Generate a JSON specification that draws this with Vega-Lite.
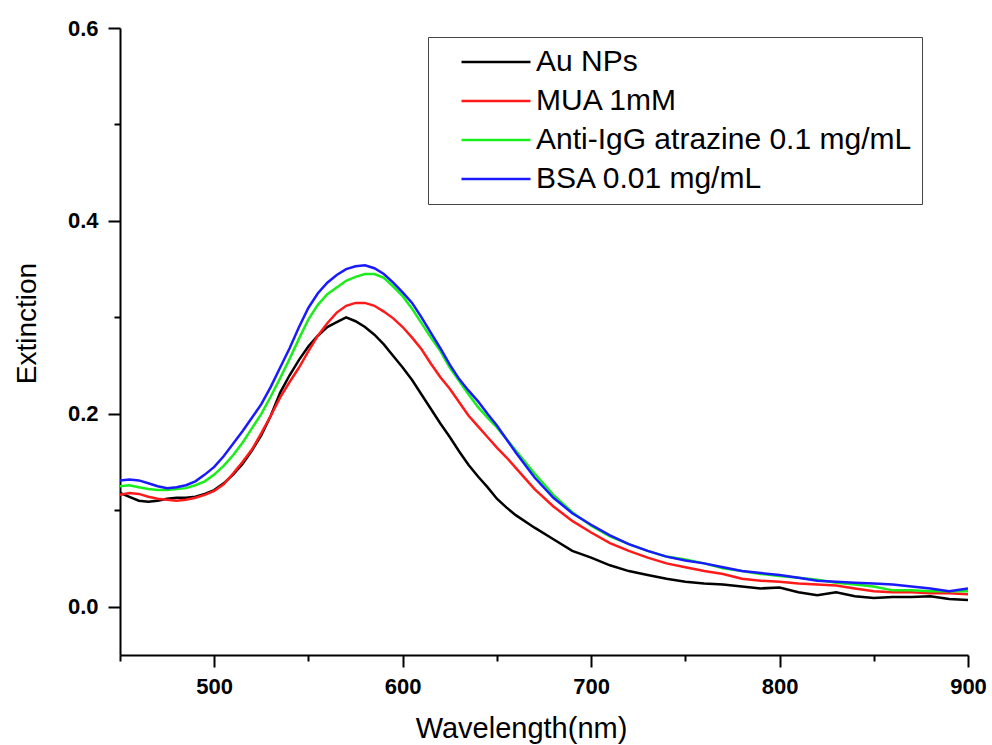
{
  "$schema": "https://vega.github.io/schema/vega-lite/v6.json",
  "autosize": {"type": "none"},
  "padding": {"left": 120, "top": 28, "right": 24, "bottom": 90},
  "width": 848,
  "height": 627,
  "background": "white",
  "config": {
    "view": {"stroke": null},
    "axis": {
      "grid": false,
      "domainColor": "black",
      "domainWidth": 2,
      "tickColor": "black",
      "tickWidth": 2,
      "labelFont": "Liberation Sans",
      "labelFontWeight": "bold",
      "labelFontSize": 22,
      "labelColor": "black",
      "titleFont": "Liberation Sans",
      "titleFontWeight": "normal",
      "titleColor": "black"
    },
    "legend": {
      "labelFont": "Liberation Sans",
      "labelFontSize": 30,
      "labelColor": "black"
    }
  },
  "data": {
    "values": [
      {"w":450,"s":"Au NPs","v":0.118},{"w":455,"s":"Au NPs","v":0.114},{"w":460,"s":"Au NPs","v":0.110},{"w":465,"s":"Au NPs","v":0.109},{"w":470,"s":"Au NPs","v":0.110},{"w":475,"s":"Au NPs","v":0.112},{"w":480,"s":"Au NPs","v":0.113},{"w":485,"s":"Au NPs","v":0.113},{"w":490,"s":"Au NPs","v":0.114},{"w":495,"s":"Au NPs","v":0.117},{"w":500,"s":"Au NPs","v":0.121},{"w":505,"s":"Au NPs","v":0.128},{"w":510,"s":"Au NPs","v":0.137},{"w":515,"s":"Au NPs","v":0.148},{"w":520,"s":"Au NPs","v":0.162},{"w":525,"s":"Au NPs","v":0.178},{"w":530,"s":"Au NPs","v":0.198},{"w":535,"s":"Au NPs","v":0.222},{"w":540,"s":"Au NPs","v":0.240},{"w":545,"s":"Au NPs","v":0.256},{"w":550,"s":"Au NPs","v":0.270},{"w":555,"s":"Au NPs","v":0.281},{"w":560,"s":"Au NPs","v":0.290},{"w":565,"s":"Au NPs","v":0.295},{"w":570,"s":"Au NPs","v":0.300},{"w":575,"s":"Au NPs","v":0.296},{"w":580,"s":"Au NPs","v":0.290},{"w":585,"s":"Au NPs","v":0.282},{"w":590,"s":"Au NPs","v":0.272},{"w":595,"s":"Au NPs","v":0.260},{"w":600,"s":"Au NPs","v":0.248},{"w":605,"s":"Au NPs","v":0.235},{"w":610,"s":"Au NPs","v":0.220},{"w":615,"s":"Au NPs","v":0.205},{"w":620,"s":"Au NPs","v":0.190},{"w":625,"s":"Au NPs","v":0.176},{"w":630,"s":"Au NPs","v":0.161},{"w":635,"s":"Au NPs","v":0.147},{"w":640,"s":"Au NPs","v":0.135},{"w":645,"s":"Au NPs","v":0.124},{"w":650,"s":"Au NPs","v":0.112},{"w":655,"s":"Au NPs","v":0.103},{"w":660,"s":"Au NPs","v":0.095},{"w":670,"s":"Au NPs","v":0.082},{"w":680,"s":"Au NPs","v":0.070},{"w":690,"s":"Au NPs","v":0.058},{"w":700,"s":"Au NPs","v":0.051},{"w":710,"s":"Au NPs","v":0.043},{"w":720,"s":"Au NPs","v":0.037},{"w":730,"s":"Au NPs","v":0.033},{"w":740,"s":"Au NPs","v":0.029},{"w":750,"s":"Au NPs","v":0.026},{"w":760,"s":"Au NPs","v":0.024},{"w":770,"s":"Au NPs","v":0.023},{"w":780,"s":"Au NPs","v":0.021},{"w":790,"s":"Au NPs","v":0.019},{"w":800,"s":"Au NPs","v":0.020},{"w":810,"s":"Au NPs","v":0.015},{"w":820,"s":"Au NPs","v":0.012},{"w":830,"s":"Au NPs","v":0.015},{"w":840,"s":"Au NPs","v":0.011},{"w":850,"s":"Au NPs","v":0.009},{"w":860,"s":"Au NPs","v":0.010},{"w":870,"s":"Au NPs","v":0.010},{"w":880,"s":"Au NPs","v":0.011},{"w":890,"s":"Au NPs","v":0.008},{"w":900,"s":"Au NPs","v":0.007},

      {"w":450,"s":"MUA 1mM","v":0.116},{"w":455,"s":"MUA 1mM","v":0.118},{"w":460,"s":"MUA 1mM","v":0.117},{"w":465,"s":"MUA 1mM","v":0.114},{"w":470,"s":"MUA 1mM","v":0.112},{"w":475,"s":"MUA 1mM","v":0.111},{"w":480,"s":"MUA 1mM","v":0.110},{"w":485,"s":"MUA 1mM","v":0.111},{"w":490,"s":"MUA 1mM","v":0.113},{"w":495,"s":"MUA 1mM","v":0.116},{"w":500,"s":"MUA 1mM","v":0.120},{"w":505,"s":"MUA 1mM","v":0.127},{"w":510,"s":"MUA 1mM","v":0.138},{"w":515,"s":"MUA 1mM","v":0.150},{"w":520,"s":"MUA 1mM","v":0.163},{"w":525,"s":"MUA 1mM","v":0.180},{"w":530,"s":"MUA 1mM","v":0.198},{"w":535,"s":"MUA 1mM","v":0.217},{"w":540,"s":"MUA 1mM","v":0.233},{"w":545,"s":"MUA 1mM","v":0.248},{"w":550,"s":"MUA 1mM","v":0.265},{"w":555,"s":"MUA 1mM","v":0.281},{"w":560,"s":"MUA 1mM","v":0.294},{"w":565,"s":"MUA 1mM","v":0.305},{"w":570,"s":"MUA 1mM","v":0.312},{"w":575,"s":"MUA 1mM","v":0.315},{"w":580,"s":"MUA 1mM","v":0.315},{"w":585,"s":"MUA 1mM","v":0.312},{"w":590,"s":"MUA 1mM","v":0.306},{"w":595,"s":"MUA 1mM","v":0.299},{"w":600,"s":"MUA 1mM","v":0.290},{"w":605,"s":"MUA 1mM","v":0.279},{"w":610,"s":"MUA 1mM","v":0.267},{"w":615,"s":"MUA 1mM","v":0.252},{"w":620,"s":"MUA 1mM","v":0.238},{"w":625,"s":"MUA 1mM","v":0.226},{"w":630,"s":"MUA 1mM","v":0.212},{"w":635,"s":"MUA 1mM","v":0.198},{"w":640,"s":"MUA 1mM","v":0.187},{"w":645,"s":"MUA 1mM","v":0.176},{"w":650,"s":"MUA 1mM","v":0.165},{"w":655,"s":"MUA 1mM","v":0.155},{"w":660,"s":"MUA 1mM","v":0.144},{"w":670,"s":"MUA 1mM","v":0.122},{"w":680,"s":"MUA 1mM","v":0.104},{"w":690,"s":"MUA 1mM","v":0.089},{"w":700,"s":"MUA 1mM","v":0.077},{"w":710,"s":"MUA 1mM","v":0.066},{"w":720,"s":"MUA 1mM","v":0.058},{"w":730,"s":"MUA 1mM","v":0.051},{"w":740,"s":"MUA 1mM","v":0.045},{"w":750,"s":"MUA 1mM","v":0.041},{"w":760,"s":"MUA 1mM","v":0.037},{"w":770,"s":"MUA 1mM","v":0.034},{"w":780,"s":"MUA 1mM","v":0.029},{"w":790,"s":"MUA 1mM","v":0.027},{"w":800,"s":"MUA 1mM","v":0.026},{"w":810,"s":"MUA 1mM","v":0.024},{"w":820,"s":"MUA 1mM","v":0.023},{"w":830,"s":"MUA 1mM","v":0.022},{"w":840,"s":"MUA 1mM","v":0.019},{"w":850,"s":"MUA 1mM","v":0.016},{"w":860,"s":"MUA 1mM","v":0.015},{"w":870,"s":"MUA 1mM","v":0.015},{"w":880,"s":"MUA 1mM","v":0.014},{"w":890,"s":"MUA 1mM","v":0.014},{"w":900,"s":"MUA 1mM","v":0.013},

      {"w":450,"s":"Anti-IgG atrazine 0.1 mg/mL","v":0.125},{"w":455,"s":"Anti-IgG atrazine 0.1 mg/mL","v":0.126},{"w":460,"s":"Anti-IgG atrazine 0.1 mg/mL","v":0.124},{"w":465,"s":"Anti-IgG atrazine 0.1 mg/mL","v":0.122},{"w":470,"s":"Anti-IgG atrazine 0.1 mg/mL","v":0.121},{"w":475,"s":"Anti-IgG atrazine 0.1 mg/mL","v":0.121},{"w":480,"s":"Anti-IgG atrazine 0.1 mg/mL","v":0.122},{"w":485,"s":"Anti-IgG atrazine 0.1 mg/mL","v":0.123},{"w":490,"s":"Anti-IgG atrazine 0.1 mg/mL","v":0.126},{"w":495,"s":"Anti-IgG atrazine 0.1 mg/mL","v":0.130},{"w":500,"s":"Anti-IgG atrazine 0.1 mg/mL","v":0.137},{"w":505,"s":"Anti-IgG atrazine 0.1 mg/mL","v":0.146},{"w":510,"s":"Anti-IgG atrazine 0.1 mg/mL","v":0.157},{"w":515,"s":"Anti-IgG atrazine 0.1 mg/mL","v":0.170},{"w":520,"s":"Anti-IgG atrazine 0.1 mg/mL","v":0.185},{"w":525,"s":"Anti-IgG atrazine 0.1 mg/mL","v":0.200},{"w":530,"s":"Anti-IgG atrazine 0.1 mg/mL","v":0.218},{"w":535,"s":"Anti-IgG atrazine 0.1 mg/mL","v":0.237},{"w":540,"s":"Anti-IgG atrazine 0.1 mg/mL","v":0.257},{"w":545,"s":"Anti-IgG atrazine 0.1 mg/mL","v":0.278},{"w":550,"s":"Anti-IgG atrazine 0.1 mg/mL","v":0.298},{"w":555,"s":"Anti-IgG atrazine 0.1 mg/mL","v":0.313},{"w":560,"s":"Anti-IgG atrazine 0.1 mg/mL","v":0.324},{"w":565,"s":"Anti-IgG atrazine 0.1 mg/mL","v":0.331},{"w":570,"s":"Anti-IgG atrazine 0.1 mg/mL","v":0.338},{"w":575,"s":"Anti-IgG atrazine 0.1 mg/mL","v":0.342},{"w":580,"s":"Anti-IgG atrazine 0.1 mg/mL","v":0.345},{"w":585,"s":"Anti-IgG atrazine 0.1 mg/mL","v":0.345},{"w":590,"s":"Anti-IgG atrazine 0.1 mg/mL","v":0.341},{"w":595,"s":"Anti-IgG atrazine 0.1 mg/mL","v":0.332},{"w":600,"s":"Anti-IgG atrazine 0.1 mg/mL","v":0.322},{"w":605,"s":"Anti-IgG atrazine 0.1 mg/mL","v":0.309},{"w":610,"s":"Anti-IgG atrazine 0.1 mg/mL","v":0.294},{"w":615,"s":"Anti-IgG atrazine 0.1 mg/mL","v":0.279},{"w":620,"s":"Anti-IgG atrazine 0.1 mg/mL","v":0.265},{"w":625,"s":"Anti-IgG atrazine 0.1 mg/mL","v":0.248},{"w":630,"s":"Anti-IgG atrazine 0.1 mg/mL","v":0.234},{"w":635,"s":"Anti-IgG atrazine 0.1 mg/mL","v":0.220},{"w":640,"s":"Anti-IgG atrazine 0.1 mg/mL","v":0.207},{"w":645,"s":"Anti-IgG atrazine 0.1 mg/mL","v":0.196},{"w":650,"s":"Anti-IgG atrazine 0.1 mg/mL","v":0.186},{"w":655,"s":"Anti-IgG atrazine 0.1 mg/mL","v":0.174},{"w":660,"s":"Anti-IgG atrazine 0.1 mg/mL","v":0.162},{"w":670,"s":"Anti-IgG atrazine 0.1 mg/mL","v":0.138},{"w":680,"s":"Anti-IgG atrazine 0.1 mg/mL","v":0.116},{"w":690,"s":"Anti-IgG atrazine 0.1 mg/mL","v":0.098},{"w":700,"s":"Anti-IgG atrazine 0.1 mg/mL","v":0.084},{"w":710,"s":"Anti-IgG atrazine 0.1 mg/mL","v":0.073},{"w":720,"s":"Anti-IgG atrazine 0.1 mg/mL","v":0.065},{"w":730,"s":"Anti-IgG atrazine 0.1 mg/mL","v":0.058},{"w":740,"s":"Anti-IgG atrazine 0.1 mg/mL","v":0.052},{"w":750,"s":"Anti-IgG atrazine 0.1 mg/mL","v":0.049},{"w":760,"s":"Anti-IgG atrazine 0.1 mg/mL","v":0.045},{"w":770,"s":"Anti-IgG atrazine 0.1 mg/mL","v":0.040},{"w":780,"s":"Anti-IgG atrazine 0.1 mg/mL","v":0.037},{"w":790,"s":"Anti-IgG atrazine 0.1 mg/mL","v":0.034},{"w":800,"s":"Anti-IgG atrazine 0.1 mg/mL","v":0.032},{"w":810,"s":"Anti-IgG atrazine 0.1 mg/mL","v":0.030},{"w":820,"s":"Anti-IgG atrazine 0.1 mg/mL","v":0.028},{"w":830,"s":"Anti-IgG atrazine 0.1 mg/mL","v":0.025},{"w":840,"s":"Anti-IgG atrazine 0.1 mg/mL","v":0.023},{"w":850,"s":"Anti-IgG atrazine 0.1 mg/mL","v":0.021},{"w":860,"s":"Anti-IgG atrazine 0.1 mg/mL","v":0.017},{"w":870,"s":"Anti-IgG atrazine 0.1 mg/mL","v":0.017},{"w":880,"s":"Anti-IgG atrazine 0.1 mg/mL","v":0.016},{"w":890,"s":"Anti-IgG atrazine 0.1 mg/mL","v":0.016},{"w":900,"s":"Anti-IgG atrazine 0.1 mg/mL","v":0.016},

      {"w":450,"s":"BSA 0.01 mg/mL","v":0.131},{"w":455,"s":"BSA 0.01 mg/mL","v":0.132},{"w":460,"s":"BSA 0.01 mg/mL","v":0.131},{"w":465,"s":"BSA 0.01 mg/mL","v":0.128},{"w":470,"s":"BSA 0.01 mg/mL","v":0.125},{"w":475,"s":"BSA 0.01 mg/mL","v":0.123},{"w":480,"s":"BSA 0.01 mg/mL","v":0.124},{"w":485,"s":"BSA 0.01 mg/mL","v":0.126},{"w":490,"s":"BSA 0.01 mg/mL","v":0.130},{"w":495,"s":"BSA 0.01 mg/mL","v":0.137},{"w":500,"s":"BSA 0.01 mg/mL","v":0.145},{"w":505,"s":"BSA 0.01 mg/mL","v":0.156},{"w":510,"s":"BSA 0.01 mg/mL","v":0.169},{"w":515,"s":"BSA 0.01 mg/mL","v":0.182},{"w":520,"s":"BSA 0.01 mg/mL","v":0.196},{"w":525,"s":"BSA 0.01 mg/mL","v":0.210},{"w":530,"s":"BSA 0.01 mg/mL","v":0.228},{"w":535,"s":"BSA 0.01 mg/mL","v":0.248},{"w":540,"s":"BSA 0.01 mg/mL","v":0.268},{"w":545,"s":"BSA 0.01 mg/mL","v":0.290},{"w":550,"s":"BSA 0.01 mg/mL","v":0.310},{"w":555,"s":"BSA 0.01 mg/mL","v":0.325},{"w":560,"s":"BSA 0.01 mg/mL","v":0.336},{"w":565,"s":"BSA 0.01 mg/mL","v":0.344},{"w":570,"s":"BSA 0.01 mg/mL","v":0.350},{"w":575,"s":"BSA 0.01 mg/mL","v":0.353},{"w":580,"s":"BSA 0.01 mg/mL","v":0.354},{"w":585,"s":"BSA 0.01 mg/mL","v":0.351},{"w":590,"s":"BSA 0.01 mg/mL","v":0.345},{"w":595,"s":"BSA 0.01 mg/mL","v":0.336},{"w":600,"s":"BSA 0.01 mg/mL","v":0.326},{"w":605,"s":"BSA 0.01 mg/mL","v":0.315},{"w":610,"s":"BSA 0.01 mg/mL","v":0.300},{"w":615,"s":"BSA 0.01 mg/mL","v":0.284},{"w":620,"s":"BSA 0.01 mg/mL","v":0.268},{"w":625,"s":"BSA 0.01 mg/mL","v":0.251},{"w":630,"s":"BSA 0.01 mg/mL","v":0.236},{"w":635,"s":"BSA 0.01 mg/mL","v":0.224},{"w":640,"s":"BSA 0.01 mg/mL","v":0.213},{"w":645,"s":"BSA 0.01 mg/mL","v":0.200},{"w":650,"s":"BSA 0.01 mg/mL","v":0.188},{"w":655,"s":"BSA 0.01 mg/mL","v":0.174},{"w":660,"s":"BSA 0.01 mg/mL","v":0.160},{"w":670,"s":"BSA 0.01 mg/mL","v":0.134},{"w":680,"s":"BSA 0.01 mg/mL","v":0.113},{"w":690,"s":"BSA 0.01 mg/mL","v":0.097},{"w":700,"s":"BSA 0.01 mg/mL","v":0.085},{"w":710,"s":"BSA 0.01 mg/mL","v":0.074},{"w":720,"s":"BSA 0.01 mg/mL","v":0.065},{"w":730,"s":"BSA 0.01 mg/mL","v":0.058},{"w":740,"s":"BSA 0.01 mg/mL","v":0.052},{"w":750,"s":"BSA 0.01 mg/mL","v":0.048},{"w":760,"s":"BSA 0.01 mg/mL","v":0.045},{"w":770,"s":"BSA 0.01 mg/mL","v":0.041},{"w":780,"s":"BSA 0.01 mg/mL","v":0.037},{"w":790,"s":"BSA 0.01 mg/mL","v":0.035},{"w":800,"s":"BSA 0.01 mg/mL","v":0.033},{"w":810,"s":"BSA 0.01 mg/mL","v":0.030},{"w":820,"s":"BSA 0.01 mg/mL","v":0.027},{"w":830,"s":"BSA 0.01 mg/mL","v":0.026},{"w":840,"s":"BSA 0.01 mg/mL","v":0.025},{"w":850,"s":"BSA 0.01 mg/mL","v":0.024},{"w":860,"s":"BSA 0.01 mg/mL","v":0.023},{"w":870,"s":"BSA 0.01 mg/mL","v":0.021},{"w":880,"s":"BSA 0.01 mg/mL","v":0.019},{"w":890,"s":"BSA 0.01 mg/mL","v":0.016},{"w":900,"s":"BSA 0.01 mg/mL","v":0.019}
    ]
  },
  "mark": {"type": "line", "strokeWidth": 2.5, "clip": true},
  "encoding": {
    "x": {
      "field": "w",
      "type": "quantitative",
      "scale": {"domain": [450, 900], "nice": false, "zero": false},
      "axis": {
        "title": "Wavelength(nm)",
        "titleFontSize": 29,
        "titleX": 401,
        "titleY": 82,
        "titleAlign": "center",
        "titleBaseline": "alphabetic",
        "values": [450, 500, 550, 600, 650, 700, 750, 800, 850, 900],
        "labelExpr": "datum.value % 100 == 0 ? datum.label : ''",
        "tickSize": {"condition": {"test": "datum.value % 100 != 0", "value": 6}, "value": 12},
        "labelPadding": 9,
        "labelFlush": false,
        "labelOverlap": false,
        "labelBound": false
      }
    },
    "y": {
      "field": "v",
      "type": "quantitative",
      "scale": {"domain": [-0.05, 0.6], "nice": false, "zero": false},
      "axis": {
        "title": "Extinction",
        "titleFontSize": 28,
        "titleX": -85,
        "titleY": 295,
        "titleAngle": -90,
        "titleAlign": "center",
        "titleBaseline": "alphabetic",
        "values": [0, 0.1, 0.2, 0.3, 0.4, 0.5, 0.6],
        "labelExpr": "round(datum.value * 10) % 2 == 0 ? format(datum.value, '.1f') : ''",
        "tickSize": {"condition": {"test": "round(datum.value * 10) % 2 != 0", "value": 6}, "value": 12},
        "labelPadding": 10,
        "labelOverlap": false,
        "labelFlush": false
      }
    },
    "color": {
      "field": "s",
      "type": "nominal",
      "sort": null,
      "scale": {
        "domain": ["Au NPs", "MUA 1mM", "Anti-IgG atrazine 0.1 mg/mL", "BSA 0.01 mg/mL"],
        "range": ["#000000", "#ff1a1a", "#1aee1a", "#1a1aff"]
      },
      "legend": {
        "title": null,
        "orient": "none",
        "legendX": 308,
        "legendY": 9,
        "padding": 10,
        "strokeColor": "#444444",
        "fillColor": "white",
        "symbolType": "M-3,0H3",
        "symbolSize": 529,
        "symbolStrokeWidth": 2.5,
        "symbolOffset": 43,
        "labelOffset": 25,
        "rowPadding": 9,
        "labelLimit": 0
      }
    }
  }
}
